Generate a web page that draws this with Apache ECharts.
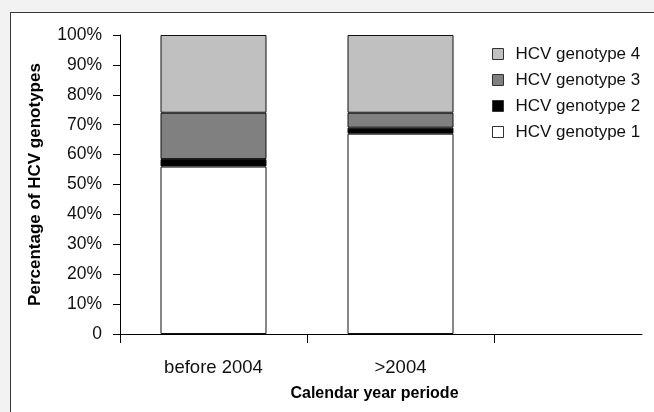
<!DOCTYPE html>
<html>
<head>
<meta charset="utf-8">
<script src="https://cdn.jsdelivr.net/npm/echarts@6/dist/echarts.min.js"></script>
<style>
html,body{margin:0;padding:0;width:654px;height:412px;overflow:hidden;background:#f2f2f2;}
#frame{position:absolute;left:10px;top:12px;width:700px;height:500px;background:#fff;border:1px solid #3a3a3a;}
#chart{position:absolute;left:0;top:0;width:654px;height:412px;}
</style>
</head>
<body>
<div id="frame"></div>
<div id="chart"></div>
<script>
const categories = ['before 2004', '>2004', ''];
const seriesNames = ['HCV genotype 1', 'HCV genotype 2', 'HCV genotype 3', 'HCV genotype 4'];
const genotype1 = [56, 67];
const genotype2 = [2.5, 2];
const genotype3 = [15.5, 5];
const genotype4 = [26, 26];
const seriesColors = ['#ffffff', '#000000', '#808080', '#c0c0c0'];
const yTicks = [0, 10, 20, 30, 40, 50, 60, 70, 80, 90, 100];

const FONT = '"Liberation Sans", Arial, sans-serif';
const values = [genotype1, genotype2, genotype3, genotype4];

const chart = echarts.init(document.getElementById('chart'), null, {renderer: 'canvas'});
chart.setOption({
  backgroundColor: 'transparent',
  animation: false,
  textStyle: {fontFamily: FONT},
  legend: {
    orient: 'vertical',
    left: 492,
    top: 45.5,
    padding: 0,
    itemWidth: 11,
    itemHeight: 11,
    itemGap: 9,
    icon: 'rect',
    data: seriesNames.slice().reverse(),
    itemStyle: {borderColor: '#333', borderWidth: 1},
    textStyle: {fontFamily: FONT, fontSize: 17, color: '#111', lineHeight: 17, padding: [0, 0, 0, 7]}
  },
  grid: [
    {left: 120, top: 35, right: -27, height: 299, outerBoundsMode: 'none', containLabel: false},
    {left: 120, top: 35, right: 12, height: 299, outerBoundsMode: 'none', containLabel: false}
  ],
  xAxis: [
    {
      type: 'category',
      gridIndex: 0,
      data: categories,
      axisLine: {show: false},
      axisTick: {show: true, length: 9, lineStyle: {color: '#000', width: 1}},
      axisLabel: {fontFamily: FONT, fontSize: 18.5, color: '#111', margin: 24},
      name: 'Calendar year periode',
      nameLocation: 'middle',
      nameGap: 52,
      nameTextStyle: {fontFamily: FONT, fontSize: 16, fontWeight: 'bold', color: '#000', padding: [0, 52, 0, 0]}
    },
    {
      type: 'value',
      gridIndex: 1,
      min: 0, max: 1,
      axisLine: {show: true, onZero: false, lineStyle: {color: '#000', width: 1}},
      axisTick: {show: false},
      axisLabel: {show: false},
      splitLine: {show: false}
    }
  ],
  yAxis: [
    {
      type: 'value',
      gridIndex: 0,
      min: 0, max: 100, interval: 10,
      axisLine: {show: true, lineStyle: {color: '#000', width: 1}},
      axisTick: {show: true, length: 7, lineStyle: {color: '#000', width: 1}},
      splitLine: {show: false},
      axisLabel: {
        fontFamily: FONT, fontSize: 17.5, color: '#111', margin: 18,
        formatter: v => (v === 0 ? '0' : v + '%')
      },
      name: 'Percentage of HCV genotypes',
      nameLocation: 'middle',
      nameGap: 76,
      nameTextStyle: {fontFamily: FONT, fontSize: 17, fontWeight: 'bold', color: '#000'}
    },
    {type: 'value', gridIndex: 1, show: false, min: 0, max: 1}
  ],
  series: seriesNames.map((name, i) => ({
    name: name,
    type: 'bar',
    stack: 'total',
    xAxisIndex: 0,
    yAxisIndex: 0,
    barWidth: 106,
    data: values[i],
    itemStyle: {color: seriesColors[i], borderColor: '#111', borderWidth: 1}
  }))
});
</script>
</body>
</html>
